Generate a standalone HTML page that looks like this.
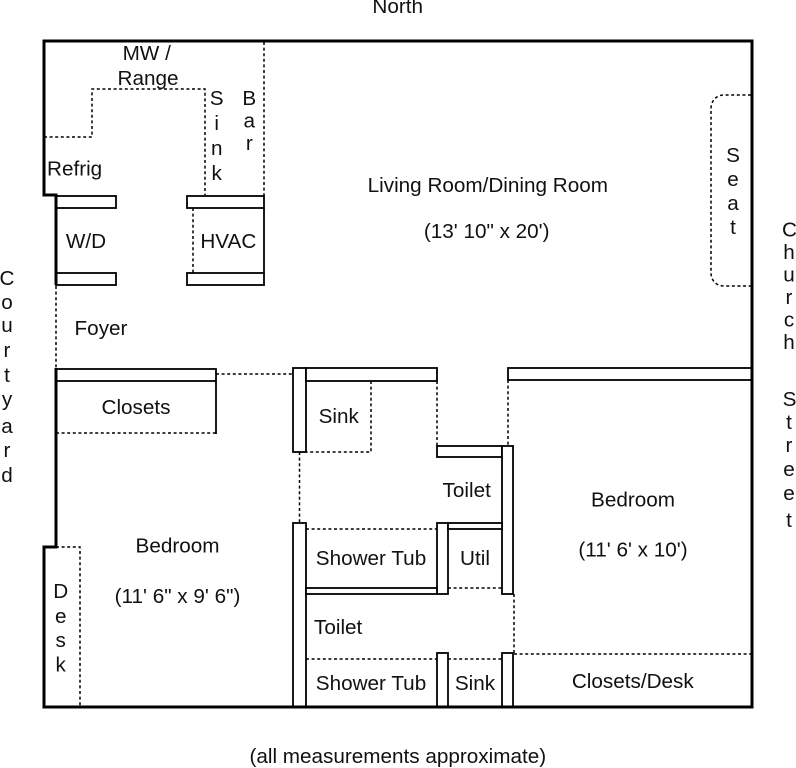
<!DOCTYPE html>
<html>
<head>
<meta charset="utf-8">
<style>
  html, body { margin: 0; padding: 0; background: #fff; }
  svg { display: block; }
  text { font-family: "Liberation Sans", Arial, sans-serif; font-size: 20.7px; fill: #111; }
</style>
</head>
<body>
<svg width="796" height="768" viewBox="0 0 796 768" xmlns="http://www.w3.org/2000/svg">
  <!-- Outer walls -->
  <g fill="none" stroke="#000" stroke-width="3" stroke-linejoin="miter">
    <polyline points="56,285 56,195 44,195 44,41 752,41 752,707 44,707 44,547 56,547 56,368"/>
  </g>

  <!-- Thin wall rectangles -->
  <g fill="#fff" stroke="#000" stroke-width="1.8">
    <rect x="56" y="196" width="60" height="12"/>
    <rect x="56" y="273" width="60" height="12"/>
    <rect x="187" y="196" width="77" height="12"/>
    <rect x="187" y="273" width="77" height="12"/>
    <rect x="56" y="369" width="160" height="12"/>
    <rect x="293" y="368" width="13" height="84"/>
    <rect x="306" y="368" width="131" height="13"/>
    <rect x="437" y="446" width="65" height="11"/>
    <rect x="502" y="446" width="11" height="148"/>
    <rect x="508" y="368" width="244" height="12"/>
    <rect x="293" y="523" width="13" height="184"/>
    <rect x="437" y="523" width="11" height="71"/>
    <rect x="448" y="523" width="54" height="6"/>
    <rect x="306" y="588" width="131" height="6"/>
    <rect x="437" y="653" width="11" height="54"/>
    <rect x="502" y="653" width="11" height="54"/>
  </g>
  <g fill="none" stroke="#000" stroke-width="1.8">
    <line x1="264" y1="208" x2="264" y2="273"/>
    <line x1="216" y1="381" x2="216" y2="434"/>
  </g>
  <!-- redraw thick outer after rects -->
  <g fill="none" stroke="#000" stroke-width="3">
    <line x1="56" y1="195" x2="56" y2="285"/>
    <line x1="56" y1="368" x2="56" y2="548"/>
    <line x1="44" y1="707" x2="752" y2="707"/>
    <line x1="752" y1="41" x2="752" y2="707"/>
  </g>

  <!-- Dotted lines -->
  <g fill="none" stroke="#000" stroke-width="1.5" stroke-dasharray="3,2.6">
    <polyline points="44,137 92,137 92,89 205,89 205,195"/>
    <line x1="264" y1="42" x2="264" y2="196"/>
    <line x1="193" y1="208" x2="193" y2="273"/>
    <line x1="56" y1="286" x2="56" y2="368"/>
    <line x1="56" y1="433" x2="216" y2="433"/>
    <line x1="216" y1="374" x2="293" y2="374"/>
    <polyline points="371,381 371,452 306,452"/>
    <line x1="437" y1="381" x2="437" y2="446"/>
    <line x1="508" y1="380" x2="508" y2="446"/>
    <line x1="299.5" y1="452" x2="299.5" y2="523"/>
    <line x1="306" y1="529" x2="437" y2="529"/>
    <line x1="448" y1="588" x2="502" y2="588"/>
    <line x1="514" y1="594" x2="514" y2="653"/>
    <line x1="514" y1="654" x2="751" y2="654"/>
    <line x1="306" y1="659" x2="437" y2="659"/>
    <line x1="448" y1="659" x2="502" y2="659"/>
    <polyline points="56,547 80,547 80,707"/>
    <path d="M751,95 L724,95 C716,95 711,101 711,109 L711,273 C711,280 716,286 724,286 L751,286"/>
  </g>

  <!-- Labels -->
  <text x="397.7" y="13" text-anchor="middle">North</text>
  <text x="146.7" y="60" text-anchor="middle">MW /</text>
  <text x="148" y="85" text-anchor="middle">Range</text>
  <text x="47" y="175.5">Refrig</text>
  <text x="86" y="248" text-anchor="middle">W/D</text>
  <text x="228.3" y="248" text-anchor="middle">HVAC</text>
  <text x="101" y="335" text-anchor="middle">Foyer</text>

  <g text-anchor="middle">
    <text x="216.7" y="105">S</text>
    <text x="216.7" y="130">i</text>
    <text x="216.7" y="155">n</text>
    <text x="216.7" y="180">k</text>

    <text x="249.3" y="105">B</text>
    <text x="249.3" y="127.5">a</text>
    <text x="249.3" y="150">r</text>

    <text x="733" y="162">S</text>
    <text x="733" y="186">e</text>
    <text x="733" y="210">a</text>
    <text x="733" y="234">t</text>

    <text x="60.7" y="598">D</text>
    <text x="60.7" y="623">e</text>
    <text x="60.7" y="647">s</text>
    <text x="60.7" y="671.5">k</text>

    <text x="7" y="285">C</text>
    <text x="7" y="309">o</text>
    <text x="7" y="332">u</text>
    <text x="7" y="357">r</text>
    <text x="7" y="382">t</text>
    <text x="7" y="406">y</text>
    <text x="7" y="433">a</text>
    <text x="7" y="457">r</text>
    <text x="7" y="482">d</text>

    <text x="789.5" y="236.5">C</text>
    <text x="789" y="259">h</text>
    <text x="789" y="281.5">u</text>
    <text x="789" y="304">r</text>
    <text x="789" y="326.5">c</text>
    <text x="789" y="349">h</text>

    <text x="789.5" y="406">S</text>
    <text x="789" y="429">t</text>
    <text x="789" y="452">r</text>
    <text x="789" y="476">e</text>
    <text x="789" y="500">e</text>
    <text x="789" y="527">t</text>
  </g>

  <text x="487.8" y="192" text-anchor="middle">Living Room/Dining Room</text>
  <text x="486.7" y="238" text-anchor="middle">(13' 10" x 20')</text>

  <text x="136" y="414" text-anchor="middle">Closets</text>
  <text x="177.5" y="552.5" text-anchor="middle">Bedroom</text>
  <text x="177.5" y="603" text-anchor="middle">(11' 6" x 9' 6")</text>

  <text x="338.7" y="423" text-anchor="middle">Sink</text>
  <text x="466.7" y="497" text-anchor="middle">Toilet</text>
  <text x="371" y="565" text-anchor="middle">Shower Tub</text>
  <text x="475" y="565" text-anchor="middle">Util</text>
  <text x="314" y="634">Toilet</text>
  <text x="371" y="690" text-anchor="middle">Shower Tub</text>
  <text x="475" y="690" text-anchor="middle">Sink</text>

  <text x="633" y="506.5" text-anchor="middle">Bedroom</text>
  <text x="633" y="556.5" text-anchor="middle">(11' 6' x 10')</text>
  <text x="632.8" y="688" text-anchor="middle">Closets/Desk</text>

  <text x="397.8" y="763" text-anchor="middle">(all measurements approximate)</text>
</svg>
</body>
</html>
